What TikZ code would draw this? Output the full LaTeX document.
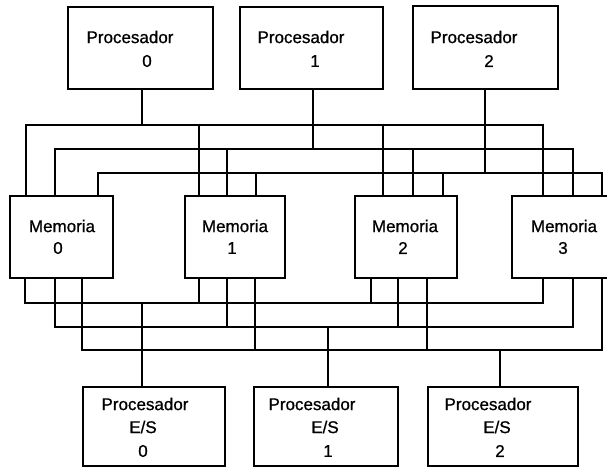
\documentclass[tikz,border=0pt]{standalone}
\usepackage{fontspec}
\setmainfont{Liberation Sans}[FakeBold=0.8]
\begin{document}
\begin{tikzpicture}[x=1pt,y=-1pt,
  box/.style={draw,line width=2.1pt,inner sep=0pt,outer sep=0pt,fill=none},
  bus/.style={line width=2.1pt,line cap=rect},
  lbl/.style={inner sep=0pt,font=\fontsize{17}{20}\selectfont}]
\useasboundingbox (0,0) rectangle (607,469);
\clip (0,0) rectangle (607,469);
% processors
\node[box,minimum width=145pt,minimum height=82pt] (p0) at (140.5,48) {};
\node[box,minimum width=143pt,minimum height=82pt] (p1) at (311.5,48) {};
\node[box,minimum width=145pt,minimum height=83pt] (p2) at (485.5,47.5) {};
\node[lbl] (p0a) at (130,37) {Procesador};
\node[lbl] (p0b) at (147,61) {0};
\node[lbl] (p1a) at (301,37) {Procesador};
\node[lbl] (p1b) at (315,61) {1};
\node[lbl] (p2a) at (474,37) {Procesador};
\node[lbl] (p2b) at (489,61) {2};
% memories
\node[box,minimum width=103pt,minimum height=82pt] (m0) at (61.5,237) {};
\node[box,minimum width=100pt,minimum height=82pt] (m1) at (235,237) {};
\node[box,minimum width=102pt,minimum height=82pt] (m2) at (406,237) {};
\node[box,minimum width=100pt,minimum height=82pt] (m3) at (562,237) {};
\node[lbl] (m0a) at (62,226) {Memoria};
\node[lbl] (m0b) at (58,248) {0};
\node[lbl] (m1a) at (235,226) {Memoria};
\node[lbl] (m1b) at (232,248) {1};
\node[lbl] (m2a) at (405,226) {Memoria};
\node[lbl] (m2b) at (403,248) {2};
\node[lbl] (m3a) at (564,226) {Memoria};
\node[lbl] (m3b) at (563,248) {3};
% I/O processors
\node[box,minimum width=142pt,minimum height=79pt] (e0) at (154,426.5) {};
\node[box,minimum width=144pt,minimum height=79pt] (e1) at (326,426.5) {};
\node[box,minimum width=150pt,minimum height=79pt] (e2) at (503,426.5) {};
\node[lbl] (e0a) at (145,404) {Procesador};
\node[lbl] (e0b) at (143,427) {E/S};
\node[lbl] (e0c) at (143,451) {0};
\node[lbl] (e1a) at (312,404) {Procesador};
\node[lbl] (e1b) at (325,427) {E/S};
\node[lbl] (e1c) at (328,451) {1};
\node[lbl] (e2a) at (488,404) {Procesador};
\node[lbl] (e2b) at (497,427) {E/S};
\node[lbl] (e2c) at (500,451) {2};
% upper bus taps
\coordinate (A0) at (26,125);  \coordinate (A1) at (199,125);
\coordinate (A2) at (383,125); \coordinate (A3) at (543,125);
\coordinate (B0) at (55,149);  \coordinate (B1) at (227,149);
\coordinate (B2) at (413,149); \coordinate (B3) at (573,149);
\coordinate (C0) at (98,173);  \coordinate (C1) at (256,173);
\coordinate (C2) at (443,173); \coordinate (C3) at (602,173);
\coordinate (PA) at (142,125); \coordinate (PB) at (313,149); \coordinate (PC) at (485,173);
% lower bus taps
\coordinate (D0) at (25,303);  \coordinate (D1) at (199,303);
\coordinate (D2) at (371,303); \coordinate (D3) at (543,303);
\coordinate (E0) at (55,327);  \coordinate (E1) at (227,327);
\coordinate (E2) at (398,327); \coordinate (E3) at (573,327);
\coordinate (F0) at (82,350);  \coordinate (F1) at (255,350);
\coordinate (F2) at (427,350); \coordinate (F3) at (602,350);
\coordinate (QD) at (142,303); \coordinate (QE) at (328,327); \coordinate (QF) at (500,350);
% processor stems
\draw[bus] (p0.south -| PA) -- (PA);
\draw[bus] (p1.south -| PB) -- (PB);
\draw[bus] (p2.south -| PC) -- (PC);
% upper buses
\draw[bus] (A0 |- m0.north) -- (A0) -- (A3) -- (A3 |- m3.north);
\draw[bus] (A1) -- (A1 |- m1.north);
\draw[bus] (A2) -- (A2 |- m2.north);
\draw[bus] (B0 |- m0.north) -- (B0) -- (B3) -- (B3 |- m3.north);
\draw[bus] (B1) -- (B1 |- m1.north);
\draw[bus] (B2) -- (B2 |- m2.north);
\draw[bus] (C0 |- m0.north) -- (C0) -- (C3) -- (C3 |- m3.north);
\draw[bus] (C1) -- (C1 |- m1.north);
\draw[bus] (C2) -- (C2 |- m2.north);
% lower buses
\draw[bus] (D0 |- m0.south) -- (D0) -- (D3) -- (D3 |- m3.south);
\draw[bus] (D1 |- m1.south) -- (D1);
\draw[bus] (D2 |- m2.south) -- (D2);
\draw[bus] (E0 |- m0.south) -- (E0) -- (E3) -- (E3 |- m3.south);
\draw[bus] (E1 |- m1.south) -- (E1);
\draw[bus] (E2 |- m2.south) -- (E2);
\draw[bus] (F0 |- m0.south) -- (F0) -- (F3) -- (F3 |- m3.south);
\draw[bus] (F1 |- m1.south) -- (F1);
\draw[bus] (F2 |- m2.south) -- (F2);
% I/O stems
\draw[bus] (QD) -- (QD |- e0.north);
\draw[bus] (QE) -- (QE |- e1.north);
\draw[bus] (QF) -- (QF |- e2.north);
\end{tikzpicture}
\end{document}
